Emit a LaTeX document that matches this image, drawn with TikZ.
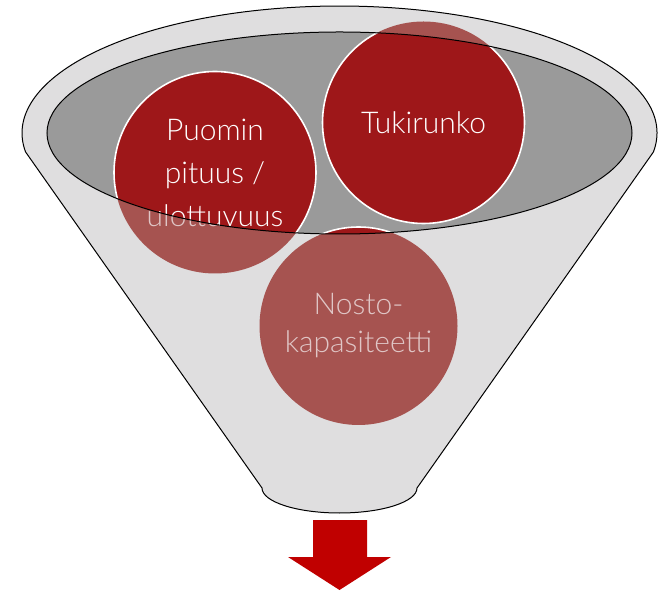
\documentclass[tikz,border=0pt]{standalone}
\usepackage{fontspec}
\IfFontExistsTF{Lato Light}{\setmainfont{Lato Light}}{%
  \IfFontExistsTF{Fira Sans Light}{\setmainfont{Fira Sans Light}}{\setmainfont{Open Sans}}}
\definecolor{funnelgray}{HTML}{DFDEDF}
\definecolor{innergray}{HTML}{9A9A9A}
\definecolor{circred}{HTML}{9E1719}
\definecolor{mutedred}{HTML}{A65350}
\definecolor{mutedtext}{HTML}{E0C6C6}
\definecolor{arrowred}{HTML}{C00000}
\tikzset{
  bubble/.style={circle, minimum size=202pt, inner sep=0pt, align=center,
    text=white, fill=circred, draw=white, line width=1.6pt},
  ghost/.style={bubble, fill=mutedred, draw=none, text=mutedtext},
  bigtext/.style={font=\fontsize{30}{43}\selectfont},
  smalltext/.style={font=\fontsize{30}{38}\selectfont},
  outline/.style={draw=black, line width=1pt},
}
\newcommand{\funnelpath}{(25.6,442) -- (262,106)
  arc[start angle=180, end angle=360, x radius=77.5pt, y radius=25pt]
  -- (653.4,442)
  arc[start angle=-8.6, end angle=188.6, x radius=317.5pt, y radius=127pt] -- cycle}
\newcommand{\innerpath}{(339.5,461) ellipse[x radius=292.5pt, y radius=101pt]}
\begin{document}
\begin{tikzpicture}[x=1pt,y=1pt]
\useasboundingbox (0,0) rectangle (668,594);
% funnel body
\fill[funnelgray] \funnelpath;
\fill[innergray] \innerpath;
% muted parts of the bubbles
\node[ghost, bigtext] (puomin-m) at (215,421.5) {Puomin\\pituus /\\ulottuvuus};
\node[ghost, bigtext] (tuki-m) at (423.5,471.5) {Tukirunko};
\node[ghost, smalltext, minimum size=198pt] (nosto-m) at (358.5,268) {Nosto-\\kapasiteetti};
% bright parts inside the opening
\begin{scope}
  \clip \innerpath;
  \node[bubble, bigtext] (puomin) at (215,421.5) {Puomin\\pituus /\\ulottuvuus};
  \node[bubble, bigtext] (tuki) at (423.5,471.5) {Tukirunko};
  \node[bubble, smalltext, minimum size=198pt] (nosto) at (358.5,268) {Nosto-\\kapasiteetti};
\end{scope}
% outlines
\draw[outline] \funnelpath;
\draw[outline] \innerpath;
% output arrow
\coordinate (tip) at (339.5,4);
\fill[arrowred] (313,74) -- (367,74) -- (367,37) -- (391,37) -- (tip) -- (288,37) -- (313,37) -- cycle;
\end{tikzpicture}
\end{document}
